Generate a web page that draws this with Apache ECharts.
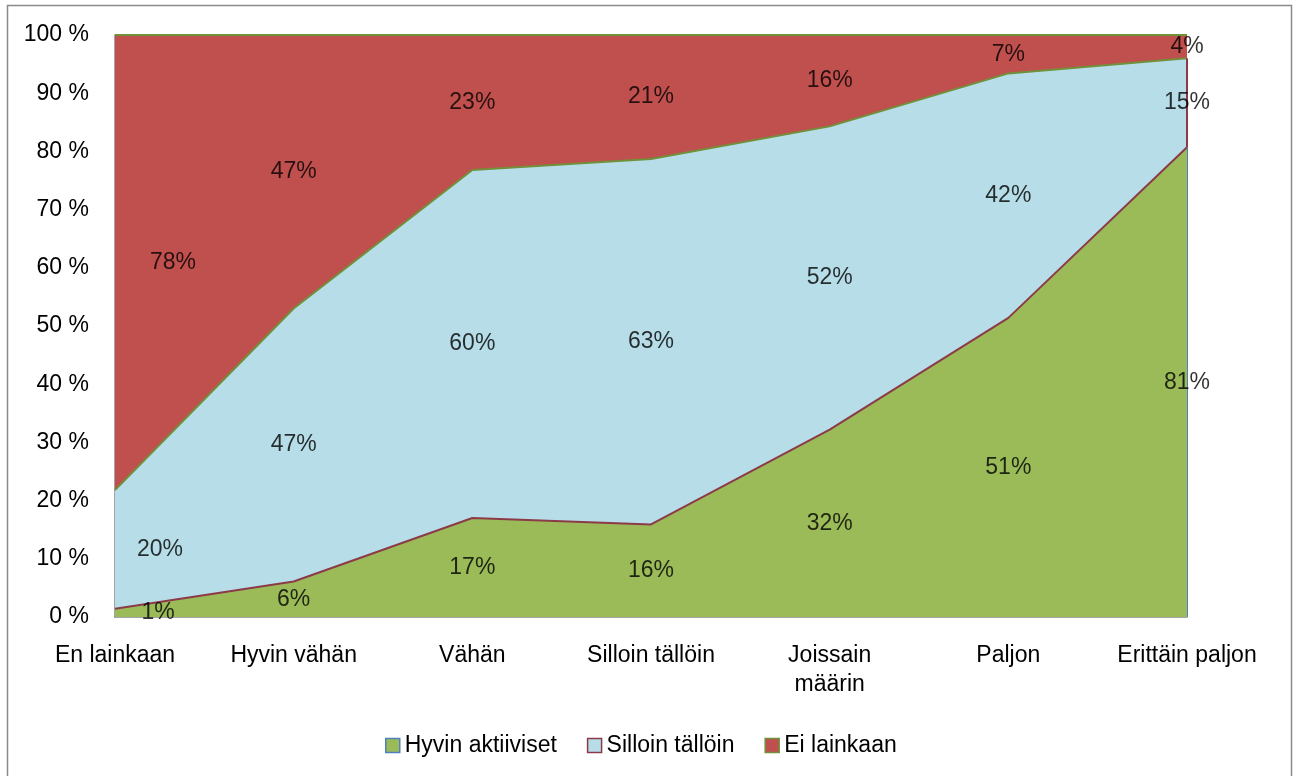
<!DOCTYPE html>
<html>
<head>
<meta charset="utf-8">
<script src="https://cdn.jsdelivr.net/npm/echarts@6/dist/echarts.min.js"></script>
<style>
html,body{margin:0;padding:0;background:#fff;}
#chart{width:1293px;height:776px;}
</style>
</head>
<body>
<div id="chart"></div>
<script>
// Data (percent shares)
const categories = ['En lainkaan','Hyvin vähän','Vähän','Silloin tällöin','Joissain määrin','Paljon','Erittäin paljon'];
const seriesNames = ['Hyvin aktiiviset','Silloin tällöin','Ei lainkaan'];
const hyvinAktiiviset = [1.4, 6.1, 17.0, 15.9, 32.2, 51.4, 80.7];
const sillointallo = [20.4, 46.9, 59.8, 62.8, 52.1, 42.0, 15.3];
const eiLainkaan = [78.2, 47.0, 23.2, 21.3, 15.7, 6.6, 4.0];
const yTicks = [0,10,20,30,40,50,60,70,80,90,100];

const FONT = '"Liberation Sans", Arial, sans-serif';
const FS = 23;
const fills = ['#9BBB59','#B7DEE8','#C0504D'];
const outlines = ['#4F81BD','#8C3A48','#71903A'];
const topLines = ['#8C3A48','#71903A','#71903A'];
const all = [hyvinAktiiviset, sillointallo, eiLainkaan];

// label points: middle of each stacked band
const firstOffsets = [43, 45, 58];
const labelSeries = all.map((arr, si) => {
  const data = arr.map((v, i) => {
    let base = 0;
    for (let k = 0; k < si; k++) base += all[k][i];
    const item = { value: [i, base + v / 2], txt: Math.round(v) + '%' };
    if (i === 0) item.label = { offset: [firstOffsets[si], 0] };
    return item;
  });
  return {
    type: 'scatter', name: '_lbl' + si, data: data, symbolSize: 1,
    itemStyle: { color: 'rgba(0,0,0,0)' }, silent: true, z: 10,
    label: {
      show: true, position: 'inside', color: '#000', fontFamily: FONT, fontSize: FS,
      textBorderWidth: 0, textShadowBlur: 0,
      formatter: p => p.data.txt
    }
  };
});

const last = categories.length - 1;
const areaSeries = all.map((arr, si) => {
  const s = {
    type: 'line', name: seriesNames[si], stack: 'total', data: arr,
    symbol: 'none', smooth: false, z: 5 - si,
    lineStyle: { color: topLines[si], width: 2 },
    areaStyle: { color: fills[si], opacity: 1 },
    itemStyle: { color: fills[si] }
  };
  if (si < 2) {
    let base = 0;
    for (let k = 0; k < si; k++) base += all[k][last];
    s.markLine = {
      silent: true, symbol: 'none', label: { show: false },
      lineStyle: { color: outlines[si], width: 2, type: 'solid' },
      data: [[{ coord: [last, base] }, { coord: [last, base + arr[last]] }]]
    };
  }
  return s;
});

const chart = echarts.init(document.getElementById('chart'));
chart.setOption({
  animation: false,
  backgroundColor: '#fff',
  graphic: [{
    type: 'rect', shape: { x: 7.5, y: 5.5, width: 1284, height: 780 },
    style: { fill: 'none', stroke: '#8a8a8a', lineWidth: 1.5 }, silent: true
  }],
  grid: { left: 115, right: 106, top: 35, bottom: 159, containLabel: false },
  legend: {
    left: 380, top: 729, itemWidth: 14, itemHeight: 14, itemGap: 30,
    textStyle: { fontFamily: FONT, fontSize: FS, color: '#000' },
    data: seriesNames.map((n, i) => ({
      name: n, icon: 'rect',
      itemStyle: { color: fills[i], borderColor: outlines[i], borderWidth: 1.5 }
    }))
  },
  xAxis: {
    type: 'category', data: categories, boundaryGap: false,
    axisLine: { lineStyle: { color: '#868686', width: 1.5 } },
    axisTick: { show: false },
    axisLabel: {
      fontFamily: FONT, fontSize: FS, color: '#000', margin: 24, lineHeight: 29,
      interval: 0,
      formatter: v => v === 'Joissain määrin' ? 'Joissain\nmäärin' : v
    },
    splitLine: { show: false }
  },
  yAxis: {
    type: 'value', min: yTicks[0], max: yTicks[yTicks.length - 1], interval: 10,
    axisLine: { show: true, lineStyle: { color: '#868686', width: 1.5 } },
    axisTick: { show: false },
    axisLabel: { fontFamily: FONT, fontSize: FS, color: '#000', margin: 26, formatter: '{value} %' },
    splitLine: { show: false }
  },
  series: areaSeries.concat(labelSeries)
});
</script>
</body>
</html>
